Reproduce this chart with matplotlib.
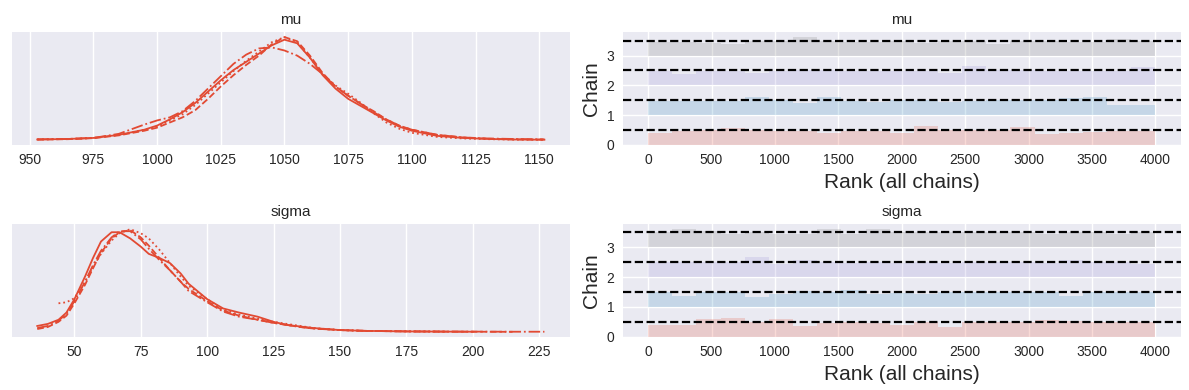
import numpy as np
import matplotlib
matplotlib.use("Agg")
import matplotlib.pyplot as plt

# ---------------- data ----------------
# KDE of mu, one curve per chain (relative density)
mu_x = [953, 965, 975, 985, 995, 1000, 1005, 1010, 1015, 1020, 1025, 1030, 1035, 1040, 1045, 1050,
        1055, 1060, 1065, 1070, 1075, 1080, 1085, 1090, 1095, 1100, 1110, 1120, 1130, 1140, 1152]
mu_chain0 = [.005, .01, .02, .05, .10, .14, .20, .27, .36, .47, .58, .68, .76, .84, .92, .975,
             .94, .80, .63, .50, .40, .33, .26, .19, .13, .09, .04, .02, .01, .005, .003]
mu_chain1 = [.004, .008, .018, .045, .09, .12, .17, .22, .29, .40, .52, .63, .73, .82, .93, 1.0,
             .96, .82, .65, .52, .43, .35, .28, .20, .14, .10, .05, .025, .012, .006, .004]
mu_chain2 = [.006, .01, .02, .05, .10, .13, .19, .25, .34, .45, .56, .67, .77, .86, .95, 1.0,
             .95, .80, .64, .53, .45, .36, .26, .17, .11, .07, .03, .015, .008, .004, .002]
mu_chain3 = [.006, .01, .02, .06, .15, .19, .22, .28, .38, .50, .62, .74, .83, .89, .90, .87,
             .82, .74, .64, .52, .43, .35, .27, .20, .14, .10, .05, .025, .015, .01, .006]

# KDE of sigma, one curve per chain (relative density)
sigma_x = [36, 40, 44, 47, 50, 54, 57, 60, 64, 67, 71, 75, 78, 82, 86, 90, 93, 100, 106, 112,
           119, 125, 130, 135, 140, 150, 160, 175, 190, 200, 215, 227]
nan = np.nan
sigma_chain0 = [.06, .08, .12, .19, .32, .54, .72, .88, .97, .97, .91, .83, .76, .72, .67, .57, .47,
                .32, .23, .19, .15, .10, .07, .055, .04, .02, .012, .007, .005, .004, nan, nan]
sigma_chain1 = [.03, .05, .10, .16, .28, .46, .62, .77, .91, .97, .99, .92, .84, .72, .60, .49, .42,
                .30, .21, .16, .12, .09, .07, .05, .035, .02, .012, .007, .005, .004, .003, nan]
sigma_chain2 = [nan, nan, .28, .29, .33, .49, .63, .76, .89, .96, 1.0, .96, .91, .80, .67, .54, .45,
                .32, .22, .17, .13, .10, .08, .06, .04, .02, .012, .008, .005, nan, nan, nan]
sigma_chain3 = [.04, .06, .11, .18, .30, .49, .65, .79, .92, .98, .98, .90, .81, .70, .60, .49, .40,
                .29, .20, .15, .12, .09, .07, .05, .035, .02, .012, .007, .005, .005, .004, .004]

# rank histograms: 21 bins over 4000 ranks, bar height per chain
n_ranks = 4000
mu_rank0 = [.41, .48, .50, .57, .50, .48, .48, .39, .48, .46, .39, .62, .50, .50, .50, .60, .37, .39, .45, .48, .48]
mu_rank1 = [.48, .48, .48, .48, .60, .50, .41, .62, .47, .43, .50, .50, .43, .46, .50, .50, .50, .57, .62, .34, .34]
mu_rank2 = [.47, .375, .47, .49, .42, .49, .50, .50, .47, .49, .49, .49, .43, .64, .50, .50, .49, .47, .49, .49, .63]
mu_rank3 = [.47, .47, .41, .375, .50, .50, .61, .50, .47, .44, .50, .41, .50, .50, .375, .50, .50, .47, .47, .57, .50]

sigma_rank0 = [.39, .39, .59, .62, .50, .59, .35, .46, .50, .48, .39, .50, .34, .50, .50, .50, .55, .52, .50, .50, .50]
sigma_rank1 = [.50, .37, .50, .50, .33, .45, .53, .50, .58, .42, .46, .45, .50, .50, .50, .50, .50, .36, .50, .50, .50]
sigma_rank2 = [.50, .50, .50, .50, .66, .42, .57, .50, .47, .50, .47, .50, .47, .50, .50, .50, .47, .57, .50, .50, .42]
sigma_rank3 = [.50, .59, .55, .42, .50, .45, .42, .59, .42, .59, .50, .50, .50, .50, .50, .50, .43, .50, .50, .43, .50]

var_names = ["mu", "sigma"]
kde_x = {"mu": mu_x, "sigma": sigma_x}
kde_y = {"mu": [mu_chain0, mu_chain1, mu_chain2, mu_chain3],
         "sigma": [sigma_chain0, sigma_chain1, sigma_chain2, sigma_chain3]}
ranks = {"mu": [mu_rank0, mu_rank1, mu_rank2, mu_rank3],
         "sigma": [sigma_rank0, sigma_rank1, sigma_rank2, sigma_rank3]}

line_color = "#e24a33"
line_styles = ["-", "--", ":", "-."]
chain_colors = ["#e24a33", "#348abd", "#988ed5", "#777777"]

# ---------------- style ----------------
plt.rcParams["font.family"] = ["Liberation Sans", "DejaVu Sans"]
plt.rcParams["axes.facecolor"] = "#eaeaf2"
plt.rcParams["axes.edgecolor"] = "white"
plt.rcParams["grid.color"] = "white"
plt.rcParams["grid.linewidth"] = 1.0
plt.rcParams["xtick.color"] = "#262626"
plt.rcParams["ytick.color"] = "#262626"
plt.rcParams["text.color"] = "#262626"
plt.rcParams["axes.labelcolor"] = "#262626"

fig, axes = plt.subplots(2, 2, figsize=(11.89, 3.9), dpi=100)
fig.subplots_adjust(left=0.010, right=0.993, top=0.918, bottom=0.136, wspace=0.095, hspace=0.70)

for row, var in enumerate(var_names):
    # KDE per chain
    ax = axes[row, 0]
    for c in range(4):
        ax.plot(kde_x[var], kde_y[var][c], color=line_color, ls=line_styles[c], lw=1.3)
    ax.set_title(var, fontsize=11)
    ax.set_yticks([])
    ax.grid(True, axis="x")
    ax.set_axisbelow(True)
    ax.tick_params(axis="x", length=0, labelsize=10, pad=6)
    for s in ax.spines.values():
        s.set_visible(False)

    # rank bars per chain
    ax = axes[row, 1]
    n_bins = len(ranks[var][0])
    edges = np.linspace(0, n_ranks, n_bins + 1)
    width = edges[1] - edges[0]
    for c in range(4):
        ax.bar(edges[:-1], ranks[var][c], bottom=c, width=width, align="edge",
               color=chain_colors[c], alpha=0.2, linewidth=0)
        ax.axhline(c + 0.5, color="black", ls="--", lw=1.6)
    ax.set_yticks(range(4))
    ax.set_title(var, fontsize=11)
    ax.set_ylabel("Chain", fontsize=15)
    ax.set_xlabel("Rank (all chains)", fontsize=15)
    ax.grid(True)
    ax.set_axisbelow(True)
    ax.tick_params(length=0, labelsize=10, pad=6)
    for s in ax.spines.values():
        s.set_visible(False)

plt.savefig("out.png", dpi=100)
